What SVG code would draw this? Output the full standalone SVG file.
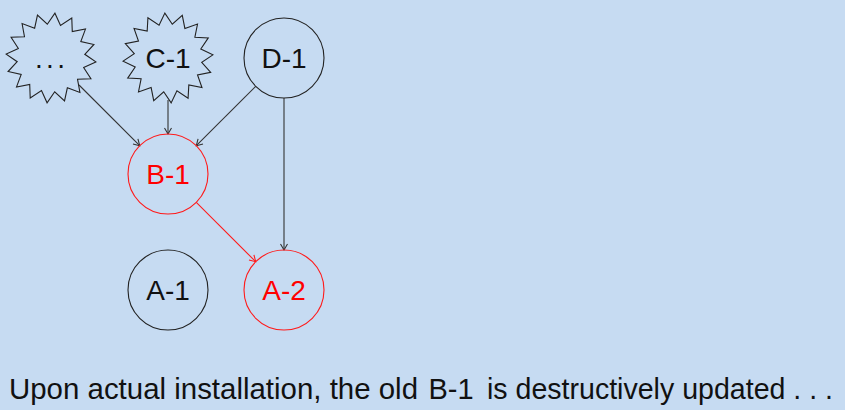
<svg xmlns="http://www.w3.org/2000/svg" width="845" height="410" viewBox="0 0 845 410">
<style>
.node{fill:none;stroke:#222;stroke-width:1.1}
.red{stroke:#ff1a1a}
.lbl{font-family:"Liberation Sans","DejaVu Sans",sans-serif;font-size:28px;text-anchor:middle;fill:#111}
.lblr{fill:#ff0000}
.edge{fill:none;stroke:#333;stroke-width:1.1}
.edger{fill:none;stroke:#ff1a1a;stroke-width:1.1}
.cap{font-family:"Liberation Sans",Arial,sans-serif;font-size:29px;fill:#111}
</style>
<defs>
<marker id="ah" markerWidth="12" markerHeight="12" refX="10" refY="6" orient="auto" markerUnits="userSpaceOnUse"><path d="M4,2.5 L10,6 L4,9.5" fill="none" stroke="#333" stroke-width="1.1"/></marker>
<marker id="ahr" markerWidth="12" markerHeight="12" refX="10" refY="6" orient="auto" markerUnits="userSpaceOnUse"><path d="M4,2.5 L10,6 L4,9.5" fill="none" stroke="#ff1a1a" stroke-width="1.1"/></marker>
<path id="star" d="M45,0 L33.35,6.63 L41.58,17.22 L28.27,18.89 L31.82,31.82 L18.89,28.27 L17.22,41.58 L6.63,33.35 L0,45 L-6.63,33.35 L-17.22,41.58 L-18.89,28.27 L-31.82,31.82 L-28.27,18.89 L-41.58,17.22 L-33.35,6.63 L-45,0 L-33.35,-6.63 L-41.58,-17.22 L-28.27,-18.89 L-31.82,-31.82 L-18.89,-28.27 L-17.22,-41.58 L-6.63,-33.35 L0,-45 L6.63,-33.35 L17.22,-41.58 L18.89,-28.27 L31.82,-31.82 L28.27,-18.89 L41.58,-17.22 L33.35,-6.63 Z"/>
</defs>
<rect x="0" y="0" width="845" height="410" fill="#c6dbf2"/>
<g id="connectors">
<line class="edge" x1="79" y1="85" x2="139.7" y2="145.7" marker-end="url(#ah)"/>
<line class="edge" x1="168" y1="100" x2="168" y2="134" marker-end="url(#ah)"/>
<line class="edge" x1="255.7" y1="86.3" x2="196.3" y2="145.7" marker-end="url(#ah)"/>
<line class="edge" x1="284" y1="98" x2="284" y2="250" stroke-width="1.4" marker-end="url(#ah)"/>
<line class="edger" x1="196.3" y1="202.3" x2="255.7" y2="261.7" marker-end="url(#ahr)"/>
</g>
<g id="node-dots">
<use href="#star" class="node" transform="translate(51,58) rotate(5)"/>
<text class="lbl" x="50" y="68" textLength="30" lengthAdjust="spacing">...</text>
</g>
<g id="node-C-1">
<use href="#star" class="node" transform="translate(168,58) rotate(-4)"/>
<text class="lbl" x="168" y="68">C-1</text>
</g>
<g id="node-D-1">
<circle class="node" cx="284" cy="58" r="40"/>
<text class="lbl" x="284" y="68">D-1</text>
</g>
<g id="node-B-1">
<circle class="node red" cx="168" cy="174" r="40"/>
<text class="lbl lblr" x="168" y="184">B-1</text>
</g>
<g id="node-A-1">
<circle class="node" cx="168" cy="290" r="40"/>
<text class="lbl" x="168" y="300">A-1</text>
</g>
<g id="node-A-2">
<circle class="node red" cx="284" cy="290" r="40"/>
<text class="lbl lblr" x="284" y="300">A-2</text>
</g>
<g id="caption">
<text class="cap" x="9" y="399" textLength="409" lengthAdjust="spacingAndGlyphs">Upon actual installation, the old</text>
<text class="lbl" x="451" y="399" style="font-size:29px">B-1</text>
<text class="cap" x="487" y="399" textLength="346" lengthAdjust="spacingAndGlyphs">is destructively updated . . .</text>
</g>
</svg>
